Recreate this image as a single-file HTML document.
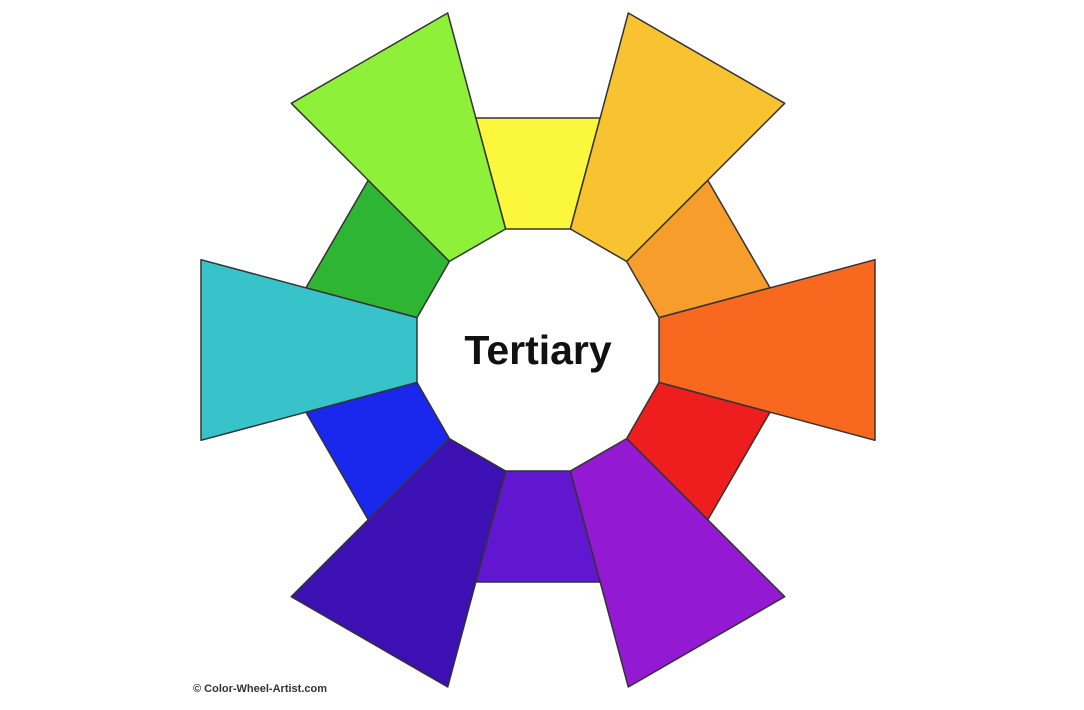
<!DOCTYPE html>
<html><head><meta charset="utf-8"><style>
html,body{margin:0;padding:0;background:#fff;}
svg{display:block;}
</style></head><body>
<svg id="wheel" width="1084" height="710" viewBox="0 0 1084 710" xmlns="http://www.w3.org/2000/svg">
<rect x="0" y="0" width="1084" height="710" fill="#fff"/>
<g id="segs"></g>
<text x="538" y="364" text-anchor="middle" font-family="Liberation Sans, sans-serif" font-weight="bold" font-size="41" fill="#111">Tertiary</text>
<text x="193" y="692" font-family="Liberation Sans, sans-serif" font-weight="bold" font-size="11" fill="#333">© Color-Wheel-Artist.com</text>
</svg>
<script>
const names=['yellow','yellow-orange','orange','red-orange','red','red-violet','violet','blue-violet','blue','blue-green','green','yellow-green'];
const colors=['#fbf73c','#f8c231','#f79d2b','#f9681f','#ef1e1e','#9419d2','#6117d0','#3c10b2','#1a27ec','#38c2c9','#2fb534','#8ff03a'];
const isLong=[0,1,0,1,0,1,0,1,0,1,0,1];
const cx=538,cy=350,rin=121;
const g=document.getElementById('segs');
function poly(i){
  const ang=(90-30*i)*Math.PI/180;
  const ux=Math.cos(ang),uy=-Math.sin(ang),px=-uy,py=ux;
  const ro=isLong[i]?337:232;
  const t=Math.tan(15*Math.PI/180);
  const wi=rin*t, wo=ro*t;
  const pts=[[rin,-wi],[ro,-wo],[ro,wo],[rin,wi]].map(([a,b])=>[(cx+ux*a+px*b).toFixed(1),(cy+uy*a+py*b).toFixed(1)].join(','));
  return pts.join(' ');
}
const order=[0,2,4,6,8,10,1,3,5,7,9,11];
order.forEach(i=>{
  const p=document.createElementNS('http://www.w3.org/2000/svg','polygon');
  p.setAttribute('points',poly(i));
  p.setAttribute('fill',colors[i]);
  p.setAttribute('stroke','#333');
  p.setAttribute('stroke-width','1.5');
  p.setAttribute('stroke-linejoin','round');
  
  
  g.appendChild(p);
});
</script>
</body></html>
